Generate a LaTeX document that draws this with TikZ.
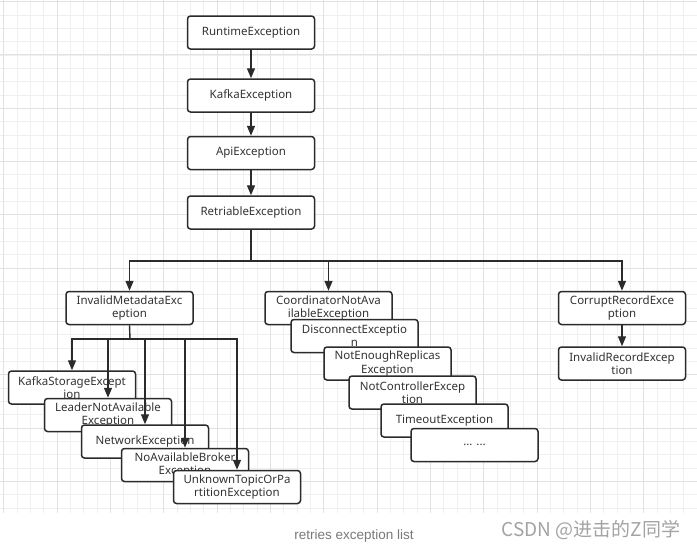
\documentclass[tikz,border=0pt]{standalone}
\usepackage{fontspec}
\setmainfont{Noto Sans}
\newfontfamily\capfont{Liberation Sans}
\newfontfamily\cjkfont{Noto Sans CJK SC}
\usetikzlibrary{arrows.meta}
\definecolor{ink}{HTML}{2B2B2B}
\definecolor{txt}{HTML}{333333}
\definecolor{gridmin}{HTML}{EFEFEF}
\definecolor{gridmaj}{HTML}{E2E2E2}
\definecolor{capgray}{HTML}{7A7A7A}
\definecolor{markgray}{HTML}{A3A3A3}

\begin{document}
\begin{tikzpicture}[x=1pt,y=-1pt,
  exbox/.style={draw=ink,fill=white,line width=1.5pt,rounded corners=3pt,minimum width=127pt,minimum height=33pt,inner sep=0pt,align=center,text=txt,font=\fontsize{11.5}{13.5}\selectfont},
  arr/.style={-{Triangle[length=10pt,width=8pt]},line width=1.4pt,ink},
  link/.style={line width=1.4pt,ink},
  gridminor/.style={gridmin,line width=0.6pt},
  gridmajor/.style={gridmaj,line width=0.8pt}]
  \useasboundingbox (0,0) rectangle (697,550);
  \fill[white] (0,0) rectangle (697,550);

  % ---- background grid ----
  \foreach \gx in {3.7,17.03,...,697} \draw[gridminor] (\gx,0) -- (\gx,513);
  \foreach \gy in {1.5,14.83,...,513} \draw[gridminor] (0,\gy) -- (697,\gy);
  \foreach \gx in {3.7,57.03,...,697} \draw[gridmajor] (\gx,0) -- (\gx,513);
  \foreach \gy in {1.5,54.83,...,513} \draw[gridmajor] (0,\gy) -- (697,\gy);

  % ---- main chain ----
  \node[exbox] (runtime) at (251,32.5) {RuntimeException};
  \node[exbox] (kafka) at (251,95.5) {KafkaException};
  \node[exbox] (api) at (251,153) {ApiException};
  \node[exbox] (retri) at (251,212.5) {RetriableException};
  \draw[arr] (runtime) -- (kafka);
  \draw[arr] (kafka) -- (api);
  \draw[arr] (api) -- (retri);

  % ---- second level ----
  \node[exbox] (invalid) at (129.5,308) {InvalidMetadataExc\\eption};
  \node[exbox] (coord) at (328.5,308) {CoordinatorNotAva\\ilableException};
  \node[exbox] (corrupt) at (622,308) {CorruptRecordExce\\ption};
  \coordinate (hub) at (251,261);
  \draw[link] (retri.south) -- (hub);
  \draw[arr] (hub) -| (invalid.north);
  \draw[arr] (hub) -| (coord.north);
  \draw[arr] (hub) -| (corrupt.north);

  % ---- InvalidMetadataException children (stacked) ----
  \node[exbox] (kstore) at (72,387.5) {KafkaStorageExcept\\ion};
  \node[exbox] (leader) at (108,415) {LeaderNotAvailable\\Exception};
  \node[exbox] (network) at (145,441.5) {NetworkException};
  \node[exbox] (noavail) at (185,465) {NoAvailableBroker\\Exception};
  \node[exbox] (unknown) at (237,487) {UnknownTopicOrPa\\rtitionException};
  \coordinate (lhub) at (130,339);
  \draw[link] (invalid.south) -- (lhub);
  \foreach \kid in {kstore,leader,network,noavail,unknown}
    \draw[arr] (lhub) -| (\kid.north);

  % ---- CoordinatorNotAvailableException siblings (stacked) ----
  \node[exbox] (disc) at (354.5,336) {DisconnectExceptio\\n};
  \node[exbox] (notenough) at (387.5,363.5) {NotEnoughReplicas\\Exception};
  \node[exbox] (notctrl) at (412.5,392.5) {NotControllerExcep\\tion};
  \node[exbox] (timeout) at (444.5,420.5) {TimeoutException};
  \node[exbox] (more) at (474.5,445) {... ...};

  % ---- CorruptRecordException child ----
  \node[exbox] (invrec) at (622,363.5) {InvalidRecordExcep\\tion};
  \draw[arr] (corrupt) -- (invrec);

  % ---- caption and mark ----
  \node[text=capgray,font=\capfont\fontsize{13.5}{15}\selectfont] (caption) at (354,536) {retries exception list};
  \node[text=markgray,font=\cjkfont\fontsize{19}{21}\selectfont] (mark) at (591,530) {CSDN @进击的Z同学};
\end{tikzpicture}
\end{document}
